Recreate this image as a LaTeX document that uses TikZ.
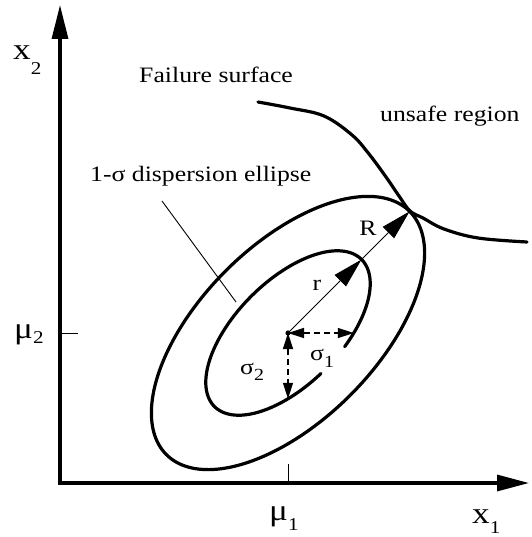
\documentclass[tikz,border=0pt]{standalone}
\usepackage{fontspec}
\setmainfont{Liberation Serif}
\usetikzlibrary{arrows.meta}
\newcommand{\lbl}[1]{\scalebox{1.17}[1]{\fontsize{22}{26}\selectfont #1}}
\newcommand{\subsc}[2]{\raisebox{-#1}{\fontsize{17}{17}\selectfont #2}}
\newcommand{\axlbl}[3]{\scalebox{1.17}[1]{\fontsize{30}{32}\selectfont #1\raisebox{-#2}{\fontsize{18}{18}\selectfont #3}}}
\begin{document}
\begin{tikzpicture}[x=1pt,y=-1pt,
  thickline/.style={line width=3.2pt, line cap=round, line join=round},
  axisline/.style={line width=3.2pt, line join=miter, {Triangle[length=34pt,width=16pt]}-{Triangle[length=32pt,width=16pt]}},
  thinline/.style={line width=0.9pt},
  bighead/.style={line width=0.9pt, -{Triangle[length=30pt,width=16pt]}},
  sigarrow/.style={line width=1.3pt, dash pattern=on 6pt off 4pt, {Triangle[length=16pt,width=10pt]}-{Triangle[length=16pt,width=10pt]}},
  txt/.style={inner sep=0pt, anchor=base west}]
\useasboundingbox (0,0) rectangle (531,537);
% axes
\coordinate (O) at (60,483);
\coordinate (ytip) at (60,5);
\coordinate (xtip) at (529,483);
\draw[axisline] (ytip) -- (O) -- (xtip);
% ticks
\coordinate (t2a) at (60,333);
\coordinate (t2b) at (78,333);
\coordinate (t1a) at (288,464);
\coordinate (t1b) at (288,483);
\draw[thinline] (t2a) -- (t2b);
\draw[thinline] (t1a) -- (t1b);
% center
\coordinate (C) at (288,333);
% outer ellipse
\draw[thickline] plot[domain=0:360, samples=181, smooth]
  ({288 + 0.7071*(172*cos(\x) - 88*sin(\x))}, {333 - 0.7071*(172*cos(\x) + 88*sin(\x))}) -- cycle;
% inner ellipse (open)
\draw[thickline] plot[domain=-73:267, samples=171, smooth]
  ({288 + 0.7071*(104*cos(\x) - 52*sin(\x))}, {333 - 0.7071*(104*cos(\x) + 52*sin(\x))});
% failure surface
\draw[thickline] plot[smooth, tension=0.6] coordinates {(258,102) (290,108) (324,116) (352,135) (369,154) (386,177) (399,196) (410,211) (423,218) (444,229) (478,238) (527,242)};
% radius arrows
\coordinate (rtip) at (361.5,259.5);
\coordinate (Rtip) at (409.6,211.4);
\draw[bighead] (C) -- (rtip);
\draw[bighead] (rtip) -- (Rtip);
% sigma arrows
\coordinate (s1tip) at (353.8,333);
\coordinate (s2tip) at (288,398.8);
\draw[sigarrow] (C) -- (s1tip);
\draw[sigarrow] (C) -- (s2tip);
\fill (C) circle (2.6);
% leader
\coordinate (l1) at (162,201);
\coordinate (l2) at (236,302);
\draw[thinline] (l1) -- (l2);
% labels
\node[txt] (fs) at (139,83) {\lbl{Failure surface}};
\node[txt] (us) at (380,122) {\lbl{unsafe region}};
\node[txt] (de) at (90,182) {\lbl{1-σ dispersion ellipse}};
\node[txt, anchor=base] (rl) at (317,290) {\lbl{r}};
\node[txt, anchor=base] (Rl) at (368,235) {\lbl{R}};
\node[txt] (s1) at (310,360) {\lbl{σ\subsc{7pt}{1}}};
\node[txt] (s2) at (240,374) {\lbl{σ\subsc{6pt}{2}}};
\node[txt] (x2) at (13,60) {\axlbl{x}{15pt}{2}};
\node[txt] (x1) at (472,523) {\axlbl{x}{10pt}{1}};
\node[txt] (m1) at (269,520) {\axlbl{μ}{10pt}{1}};
\node[txt] (m2) at (14,338) {\axlbl{μ}{5pt}{2}};
\end{tikzpicture}
\end{document}
